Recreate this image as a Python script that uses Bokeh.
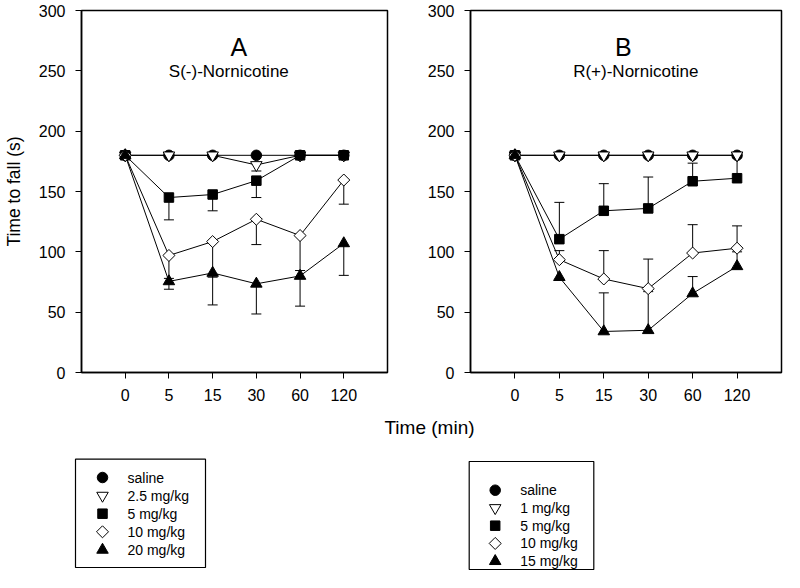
from bokeh.plotting import figure
from bokeh.models import Range1d, FixedTicker, Whisker, TeeHead, ColumnDataSource, Label
from bokeh.layouts import column, row
from bokeh.embed import file_html
from bokeh.resources import INLINE
from bokeh.core.properties import value
import math

FONT = "Liberation Sans"

# ---------------- data ----------------
time_labels = ["0", "5", "15", "30", "60", "120"]
time_index = [0, 1, 2, 3, 4, 5]
y_ticks = [0, 50, 100, 150, 200, 250, 300]

# Panel A : S(-)-Nornicotine  (SEM drawn downward)
a_labels = ["saline", "2.5 mg/kg", "5 mg/kg", "10 mg/kg", "20 mg/kg"]
a_saline = [180, 180, 180, 180, 180, 180]
a_dose_2_5 = [180, 180, 180, 172, 180, 180]
a_dose_5 = [180, 145, 147.5, 159, 180, 180]
a_dose_10 = [180, 97, 108.5, 127, 113.5, 159.5]
a_dose_20 = [180, 75.5, 82.5, 73.5, 80, 107]
a_saline_sem = [0, 0, 0, 0, 0, 0]
a_dose_2_5_sem = [0, 0, 0, 5, 0, 0]
a_dose_5_sem = [0, 18.5, 13.5, 14, 0, 0]
a_dose_10_sem = [0, 19, 29.5, 21, 29, 20]
a_dose_20_sem = [0, 6.5, 26.5, 25, 25, 26.5]

# Panel B : R(+)-Nornicotine  (SEM drawn upward)
b_labels = ["saline", "1 mg/kg", "5 mg/kg", "10 mg/kg", "15 mg/kg"]
b_saline = [180, 180, 180, 180, 180, 180]
b_dose_1 = [180, 180, 180, 180, 180, 180]
b_dose_5 = [180, 110.5, 134, 136, 158.5, 161]
b_dose_10 = [180, 93.5, 77.5, 69.5, 99, 103]
b_dose_15 = [180, 79, 34, 35, 65.5, 88]
b_saline_sem = [0, 0, 0, 0, 0, 0]
b_dose_1_sem = [0, 0, 0, 0, 0, 0]
b_dose_5_sem = [0, 30.5, 22.5, 26, 15, 17]
b_dose_10_sem = [0, 7.5, 23.5, 24.5, 23.5, 18.5]
b_dose_15_sem = [0, 0, 32, 32, 14, 12]

# ---------------- styles ----------------
marker_styles = [
    dict(marker="circle", size=10.5, fill_color="black", angle=0),
    dict(marker="inverted_triangle", size=11.5, fill_color="white", angle=0),
    dict(marker="square", size=9.5, fill_color="black", angle=0),
    dict(marker="square", size=8.5, fill_color="white", angle=math.pi / 4),
    dict(marker="triangle", size=11.5, fill_color="black", angle=0),
]


def make_panel(series, sems, direction, letter, subtitle, letter_x, sub_x,
               width, min_left, min_right, min_top, min_bottom, ylabel):
    p = figure(width=width, height=410, output_backend="svg", toolbar_location=None,
               x_range=Range1d(-1, 6), y_range=Range1d(0, 300),
               min_border_left=min_left, min_border_right=min_right,
               min_border_top=min_top, min_border_bottom=min_bottom)
    p.background_fill_color = "white"
    p.border_fill_color = "white"
    p.outline_line_color = "black"
    p.outline_line_width = 1.5
    p.xgrid.visible = False
    p.ygrid.visible = False

    p.xaxis.ticker = FixedTicker(ticks=time_index)
    p.xaxis.major_label_overrides = {i: lab for i, lab in zip(time_index, time_labels)}
    p.yaxis.ticker = FixedTicker(ticks=y_ticks)
    for ax in (p.xaxis, p.yaxis):
        ax.minor_tick_line_color = None
        ax.major_tick_in = 0
        ax.major_tick_out = 6
        ax.major_tick_line_width = 1
        ax.major_tick_line_color = "black"
        ax.axis_line_width = 1.5
        ax.axis_line_color = "black"
        ax.major_label_text_font = FONT
        ax.major_label_text_font_size = "16px"
        ax.major_label_text_color = "black"
        ax.major_label_standoff = 10
    if ylabel:
        p.yaxis.axis_label = ylabel
        p.yaxis.axis_label_text_font = FONT
        p.yaxis.axis_label_text_font_size = "17.5px"
        p.yaxis.axis_label_text_font_style = "normal"
        p.yaxis.axis_label_text_color = "black"
        p.yaxis.axis_label_standoff = 12

    # error bars
    for ys, es in zip(series, sems):
        xs = [t for t, e in zip(time_index, es) if e > 0]
        vals = [v for v, e in zip(ys, es) if e > 0]
        errs = [e for e in es if e > 0]
        if not xs:
            continue
        if direction < 0:
            lo = [v - e for v, e in zip(vals, errs)]
            hi = vals
        else:
            lo = vals
            hi = [v + e for v, e in zip(vals, errs)]
        src = ColumnDataSource(dict(x=xs, lower=lo, upper=hi))
        head = TeeHead(size=10, line_color="black", line_width=1)
        w = Whisker(base="x", lower="lower", upper="upper", source=src, dimension="height",
                    line_color="black", line_width=1,
                    lower_head=head if direction < 0 else None,
                    upper_head=head if direction > 0 else None)
        p.add_layout(w)

    for ys in series:
        p.line(time_index, ys, line_color="black", line_width=1)
    for ys, st in zip(series, marker_styles):
        p.scatter(time_index, ys, marker=st["marker"], size=st["size"], angle=st["angle"],
                  fill_color=st["fill_color"], line_color="black", line_width=1)

    p.add_layout(Label(x=letter_x, y=269.5, text=letter, text_align="center",
                       text_baseline="alphabetic", text_font=FONT, text_font_size="25px",
                       text_color="black"))
    p.add_layout(Label(x=sub_x, y=249.5, text=subtitle, text_align="center",
                       text_baseline="alphabetic", text_font=FONT, text_font_size="17px",
                       text_color="black"))
    return p


pA = make_panel([a_saline, a_dose_2_5, a_dose_5, a_dose_10, a_dose_20],
                [a_saline_sem, a_dose_2_5_sem, a_dose_5_sem, a_dose_10_sem, a_dose_20_sem],
                -1, "A", "S(-)-Nornicotine", 2.6, 2.37,
                width=412, min_left=76, min_right=25, min_top=8, min_bottom=38,
                ylabel="Time to fall (s)")
pB = make_panel([b_saline, b_dose_1, b_dose_5, b_dose_10, b_dose_15],
                [b_saline_sem, b_dose_1_sem, b_dose_5_sem, b_dose_10_sem, b_dose_15_sem],
                1, "B", "R(+)-Nornicotine", 2.44, 2.72,
                width=372, min_left=58, min_right=3, min_top=10, min_bottom=36,
                ylabel=None)

# ---------------- bottom strip: shared x label and legends ----------------
H = 161
pL = figure(width=784, height=H, output_backend="svg", toolbar_location=None,
            x_range=Range1d(0, 784), y_range=Range1d(H, 0),
            x_axis_type=None, y_axis_type=None,
            min_border_left=0, min_border_right=0, min_border_top=0, min_border_bottom=0)
pL.outline_line_color = None
pL.xgrid.visible = False
pL.ygrid.visible = False

pL.text([429], [17], text=["Time (min)"], text_font=value(FONT), text_font_size="19px",
        text_align="center", text_baseline="middle", text_color="black")

legend_boxes = [
    dict(left=75, right=205, top=48.7, bottom=157, mx=102, tx=127, y0=67, dy=18.1, labels=a_labels),
    dict(left=468.7, right=593.3, top=51, bottom=159, mx=494.7, tx=519.7, y0=79.7, dy=17.75, labels=b_labels),
]
for box in legend_boxes:
    pL.quad(left=[box["left"]], right=[box["right"]], top=[box["top"]], bottom=[box["bottom"]],
            fill_color=None, line_color="black", line_width=1.2)
    ys = [box["y0"] + i * box["dy"] for i in range(len(box["labels"]))]
    for yy, st in zip(ys, marker_styles):
        pL.scatter([box["mx"]], [yy], marker=st["marker"], size=st["size"], angle=st["angle"],
                   fill_color=st["fill_color"], line_color="black", line_width=1)
    pL.text([box["tx"]] * len(ys), ys, text=box["labels"], text_font=value(FONT),
            text_font_size="14px", text_baseline="middle", text_align="left", text_color="black")

layout = column(row(pA, pB), pL)
open("out.html", "w").write(file_html(layout, INLINE))
